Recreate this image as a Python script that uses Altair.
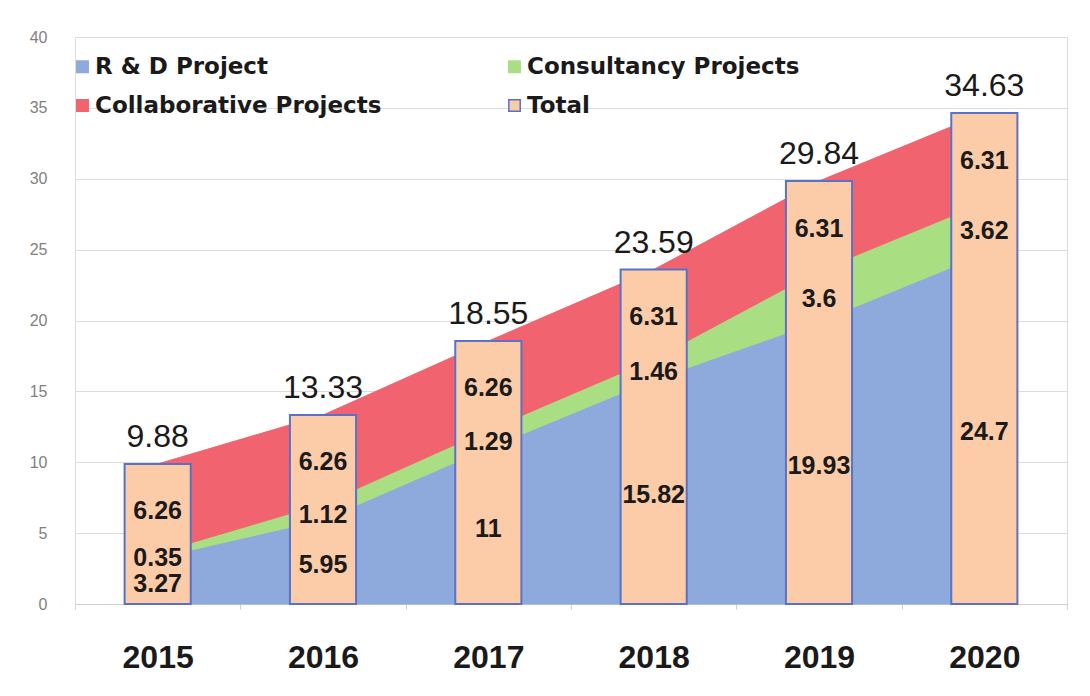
import altair as alt
import pandas as pd

years = ["2015", "2016", "2017", "2018", "2019", "2020"]
rnd = [3.27, 5.95, 11, 15.82, 19.93, 24.7]
consult = [0.35, 1.12, 1.29, 1.46, 3.6, 3.62]
collab = [6.26, 6.26, 6.26, 6.31, 6.31, 6.31]
total = [9.88, 13.33, 18.55, 23.59, 29.84, 34.63]

series_names = ["R & D Project", "Consultancy Projects", "Collaborative Projects", "Total"]
fill_colors = ["#8eaadc", "#a9df82", "#f1636f", "#fccba7"]
stroke_colors = ["#8eaadc", "#a9df82", "#f1636f", "#5a72c6"]

rows = []
for i, y in enumerate(years):
    for k, (name, vals) in enumerate(zip(series_names[:3], [rnd, consult, collab])):
        rows.append({"year": y, "series": name, "value": vals[i], "rank": k})
stack_df = pd.DataFrame(rows)
total_df = pd.DataFrame({"year": years, "total": total, "series": ["Total"] * len(years)})

x_enc = alt.X(
    "year:N",
    title=None,
    scale=alt.Scale(paddingInner=0, paddingOuter=0),
    axis=alt.Axis(
        labelAngle=0, labelFont="Liberation Sans", labelFontSize=32, labelFontWeight="bold",
        labelColor="#1a1a1a", labelPadding=33, tickBand="extent", tickSize=5,
        tickColor="#d0d0d0", domainColor="#d0d0d0", grid=False,
    ),
)
y_scale = alt.Scale(domain=[0, 40], nice=False)
y_axis = alt.Axis(
    values=[0, 5, 10, 15, 20, 25, 30, 35, 40], title=None, ticks=False, domain=False,
    labelFont="Liberation Sans", labelFontSize=16, labelColor="#7f7f7f", labelPadding=28,
    gridColor="#dcdcdc", gridWidth=1, minExtent=54, maxExtent=54,
)

color_scale = alt.Scale(domain=series_names, range=fill_colors)
stroke_scale = alt.Scale(domain=series_names, range=stroke_colors)
legend = alt.Legend(
    title=None, orient="none", legendX=-4, legendY=18, columns=2, direction="horizontal",
    symbolType="square", symbolSize=130, labelFont="DejaVu Sans", labelFontWeight="bold",
    labelFontSize=23, labelColor="#1a1a1a", labelLimit=500, labelOffset=1,
    columnPadding=121, rowPadding=15, padding=0, symbolStrokeWidth=1.5,
)

area = alt.Chart(stack_df).mark_area(strokeWidth=1, opacity=1).encode(
    x=x_enc,
    y=alt.Y("value:Q", stack="zero", scale=y_scale, axis=y_axis),
    fill=alt.Fill("series:N", scale=color_scale, legend=legend),
    stroke=alt.Stroke("series:N", scale=stroke_scale, legend=legend),
    order=alt.Order("rank:Q"),
)

bars = alt.Chart(total_df).mark_bar(strokeWidth=2, width=alt.RelativeBandSize(0.4)).encode(
    x=x_enc,
    y=alt.Y("total:Q", scale=y_scale),
    fill=alt.Fill("series:N", scale=color_scale, legend=legend),
    stroke=alt.Stroke("series:N", scale=stroke_scale, legend=legend),
)

total_text = alt.Chart(total_df).mark_text(
    font="Liberation Sans", fontSize=32, color="#1a1a1a", baseline="alphabetic", dy=-17
).encode(
    x=x_enc,
    y=alt.Y("total:Q", scale=y_scale),
    text=alt.Text("total:Q"),
)

inner_text = alt.Chart(stack_df).transform_stack(
    stack="value", groupby=["year"], as_=["v0", "v1"], sort=[alt.SortField("rank", order="ascending")]
).transform_calculate(
    mid="(datum.v0 + datum.v1) / 2"
).mark_text(
    font="Liberation Sans", fontSize=25, fontWeight="bold", color="#1a1a1a", baseline="middle", dy=3
).encode(
    x=x_enc,
    y=alt.Y("mid:Q", scale=y_scale),
    text=alt.Text("value:Q"),
)

chart = alt.layer(area, bars, total_text, inner_text).properties(
    width=992, height=567,
    padding={"left": 13, "top": 21, "right": 5, "bottom": 5},
).configure_view(stroke=None).configure(background="white")

chart.save("out.html", embed_options={"renderer": "svg", "actions": False})
